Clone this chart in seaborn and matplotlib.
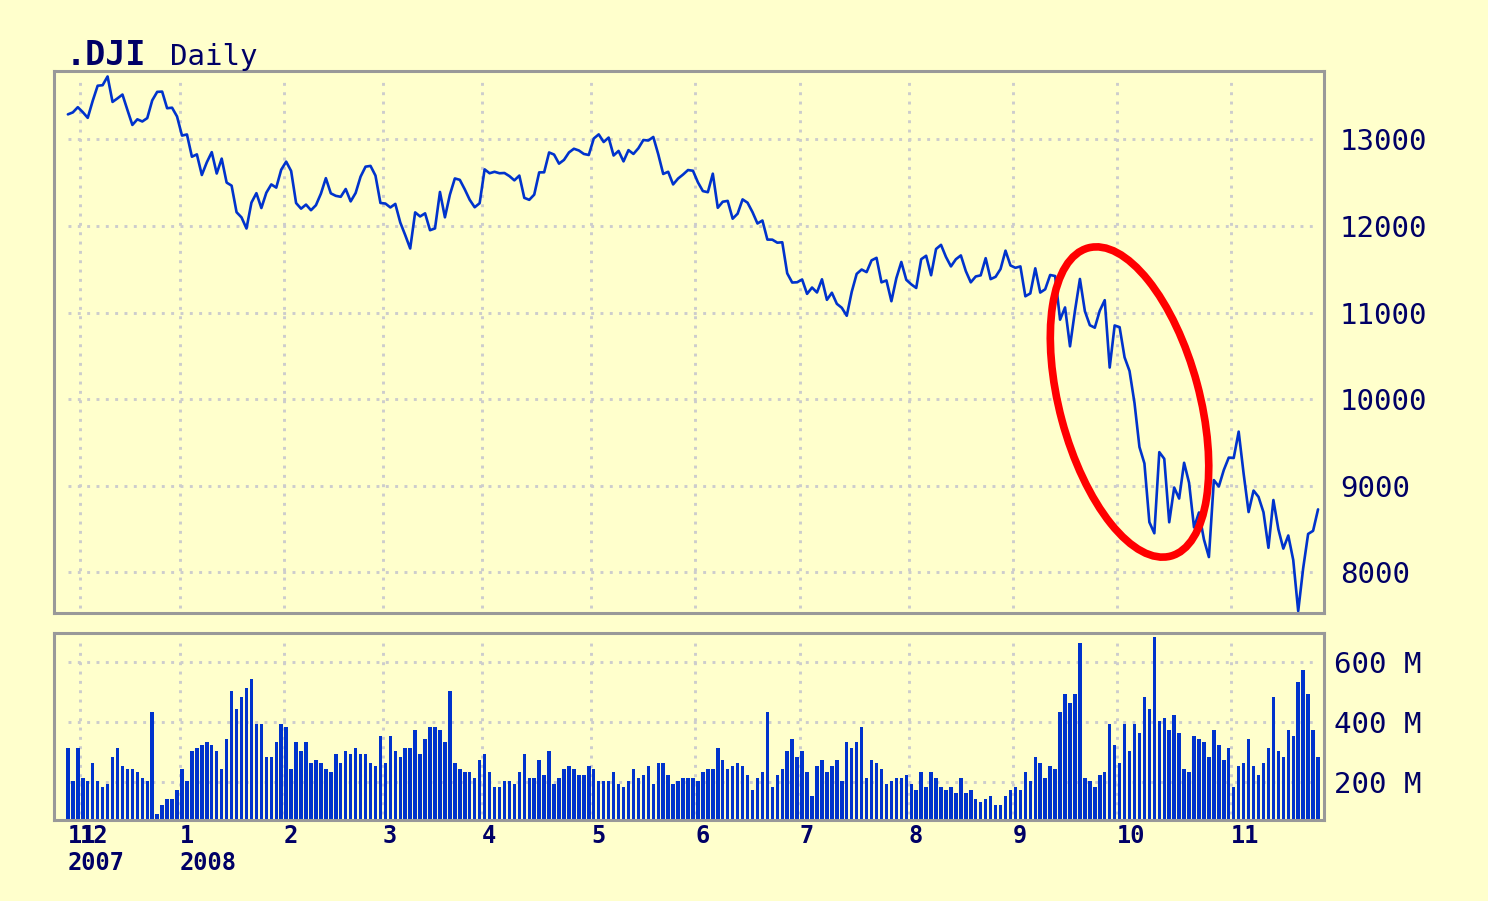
import numpy as np
import pandas as pd
import matplotlib.pyplot as plt
import matplotlib.transforms as mtransforms
from matplotlib.patches import Ellipse
import seaborn as sns

# Trading calendar shown on the chart
start, end = "2007-11-28", "2008-11-26"
holidays = ["2007-12-25", "2008-01-01", "2008-01-21", "2008-02-18", "2008-03-21",
            "2008-05-26", "2008-07-04", "2008-09-01"]

# Daily close
close = [
    13289, 13312, 13372,
    13315, 13249, 13445, 13620, 13626, 13727, 13433, 13474, 13518, 13340,
    13167, 13232, 13207, 13246, 13451, 13549, 13552, 13360, 13366, 13265,
    13044, 13057, 12800, 12827, 12589, 12735, 12853, 12606, 12778, 12501,
    12466, 12159, 12099, 11971, 12270, 12379, 12207, 12384, 12480, 12443, 12650,
    12743, 12635, 12265, 12200, 12247, 12182, 12240, 12373, 12552, 12377,
    12348, 12337, 12427, 12284, 12381, 12570, 12685, 12694, 12582, 12266,
    12259, 12214, 12255, 12040, 11894, 11740, 12157, 12110, 12146, 11951,
    11972, 12393, 12100, 12361, 12549, 12533, 12423, 12302, 12216, 12263,
    12654, 12609, 12626, 12609, 12612, 12576, 12527, 12582, 12325, 12302,
    12362, 12619, 12620, 12849, 12825, 12720, 12763, 12849, 12892, 12872, 12832, 12820,
    13010, 13058, 12970, 13021, 12814, 12867, 12746, 12876, 12832, 12898,
    12993, 12987, 13028, 12829, 12601, 12626, 12480, 12548, 12594, 12646, 12638,
    12504, 12403, 12390, 12604, 12210, 12280, 12290, 12084, 12142, 12307,
    12269, 12160, 12029, 12063, 11843, 11842, 11807, 11812, 11453, 11347, 11350,
    11382, 11216, 11289, 11232, 11384, 11147, 11229, 11101, 11055, 10963,
    11239, 11447, 11497, 11467, 11603, 11632, 11349, 11371, 11131, 11398, 11584, 11378,
    11326, 11284, 11616, 11656, 11431, 11734, 11782, 11642, 11533, 11616,
    11660, 11479, 11349, 11417, 11430, 11628, 11386, 11413, 11503, 11715, 11544,
    11517, 11533, 11188, 11221, 11511, 11231, 11269, 11434, 11422, 10918,
    11059, 10610, 11020, 11388, 11016, 10854, 10825, 11022, 11143, 10365, 10851,
    10831, 10483, 10325, 9956, 9447, 9258, 8579, 8451, 9388, 9311,
    8578, 8979, 8852, 9265, 9034, 8519, 8691, 8379, 8176, 9065, 8991, 9181, 9325,
    9320, 9625, 9139, 8696, 8944, 8871, 8694, 8283, 8835, 8497,
    8274, 8425, 8142, 7552, 8046, 8443, 8479, 8727,
]

# Daily volume in millions
volume = [
    314, 203, 314,
    213, 203, 263, 203, 183, 193, 283, 313, 253, 243, 243, 233, 213, 203, 433, 93, 123, 143, 143, 173,
    243, 203, 303, 313, 323, 333, 323, 303, 243, 343, 503, 443, 483, 513, 543, 393, 393, 283, 283, 333, 393,
    383, 243, 333, 303, 333, 263, 273, 263, 243, 233, 293, 263, 303, 293, 313, 293, 293, 263, 253, 353,
    263, 353, 303, 283, 313, 313, 373, 293, 343, 383, 383, 373, 333, 503, 263, 243, 233, 233, 213, 273,
    293, 233, 183, 183, 203, 203, 193, 233, 293, 213, 213, 273, 223, 303, 193, 213, 243, 253, 243, 223, 223, 253,
    243, 203, 203, 203, 233, 193, 183, 203, 243, 213, 223, 253, 193, 263, 263, 223, 193, 203, 213, 213, 213,
    203, 233, 243, 243, 313, 273, 243, 253, 263, 253, 223, 173, 213, 233, 433, 183, 223, 243, 303, 343, 283,
    303, 233, 153, 253, 273, 233, 253, 273, 203, 333, 313, 333, 383, 213, 273, 263, 243, 193, 203, 213, 213, 223,
    193, 173, 233, 183, 233, 213, 183, 173, 183, 163, 213, 163, 173, 143, 133, 143, 153, 123, 123, 153, 173,
    183, 173, 233, 203, 283, 263, 213, 253, 243, 433, 493, 463, 493, 663, 213, 203, 183, 223, 233, 393, 323,
    263, 393, 303, 393, 363, 483, 443, 683, 403, 413, 373, 423, 363, 243, 233, 353, 343, 333, 283, 373, 323, 273, 313,
    183, 253, 263, 343, 253, 223, 263, 313, 483, 303, 283, 373, 353, 533, 573, 493, 373, 283,
]

price_levels = [8000, 9000, 10000, 11000, 12000, 13000]
volume_levels = [200, 400, 600]

BG = "#FFFFCC"
BLUE = "#0033CC"
NAVY = "#000066"
GRID = "#CCCCCC"
FRAME = "#999999"

days = pd.bdate_range(start, end).drop(pd.to_datetime(holidays))
df = pd.DataFrame({"date": days, "close": close, "volume": volume})
df["i"] = np.arange(len(df))

# month boundaries sit halfway between two trading days
first = df.groupby(df["date"].dt.to_period("M"))["i"].min()
bounds = first.values[1:] - 0.5
label_pos = np.r_[0, bounds]
month_labels = [str(p.month) for p in first.index]
year_pos = [label_pos[k] for k, p in enumerate(first.index) if k == 0 or p.month == 1]
year_labels = [str(p.year) for k, p in enumerate(first.index) if k == 0 or p.month == 1]

sns.set_style("white")
plt.rcParams["font.family"] = ["DejaVu Sans Mono", "DejaVu Sans"]

W, H = 1488, 901
fig = plt.figure(figsize=(W / 100, H / 100), dpi=100, facecolor=BG)
ax1 = fig.add_axes([54 / W, 1 - 613 / H, 1270 / W, 542 / H], facecolor=BG)
ax2 = fig.add_axes([54 / W, 1 - 820 / H, 1270 / W, 187 / H], facecolor=BG)

dots = dict(color=GRID, linewidth=2.1, linestyle=(0, (1, 2.2)), zorder=0)

# price panel
ax1.hlines(price_levels, df["i"].iloc[0], df["i"].iloc[-1], **dots)
for b in bounds:
    ax1.axvline(b, ymin=0.01, ymax=0.99, **dots)
sns.lineplot(data=df, x="i", y="close", ax=ax1, color=BLUE, linewidth=1.9, zorder=2)

# red highlight around the October crash
oval = Ellipse((0, 0), width=3.19, height=1.40, angle=-75, fill=False,
               edgecolor="#FF0000", linewidth=5.5, zorder=4, clip_on=False,
               transform=fig.dpi_scale_trans + mtransforms.ScaledTranslation(214, 9967, ax1.transData))
ax1.add_patch(oval)

ax1.set_xlim(-2.8, 253.2)
ax1.set_ylim(7530, 13790)
ax1.set_xticks([])
ax1.yaxis.tick_right()
ax1.set_yticks(price_levels)
ax1.tick_params(axis="y", length=0, pad=11.5, labelsize=21, labelcolor=NAVY)
ax1.set_xlabel("")
ax1.set_ylabel("")

# volume panel
ax2.hlines(volume_levels, df["i"].iloc[0], df["i"].iloc[-1], **dots)
for b in bounds:
    ax2.axvline(b, ymin=0.03, ymax=0.97, **dots)
sns.barplot(data=df, x="i", y="volume", ax=ax2, native_scale=True, width=0.7,
            color=BLUE, saturation=1, errorbar=None, linewidth=0, zorder=2)
ax2.set_xlim(-2.8, 253.2)
ax2.set_ylim(72, 697)
ax2.set_xticks([])
ax2.yaxis.tick_right()
ax2.set_yticks(volume_levels)
ax2.set_yticklabels([f"{v} M" for v in volume_levels])
ax2.tick_params(axis="y", length=0, pad=7.5, labelsize=21, labelcolor=NAVY)
ax2.set_xlabel("")
ax2.set_ylabel("")

for ax in (ax1, ax2):
    for s in ax.spines.values():
        s.set_visible(True)
        s.set_color(FRAME)
        s.set_linewidth(2.2)

# month / year labels under the volume panel (Nov and Dec overlap as in the source)
tr = mtransforms.blended_transform_factory(ax2.transData, ax2.transAxes)
for p, lab in zip(label_pos, month_labels):
    ax2.text(p, -0.123, lab, transform=tr, ha="left", va="baseline",
             fontsize=17, fontweight="bold", color=NAVY)
for p, lab in zip(year_pos, year_labels):
    ax2.text(p, -0.267, lab, transform=tr, ha="left", va="baseline",
             fontsize=17, fontweight="bold", color=NAVY)

fig.text(66 / W, 1 - 65 / H, ".DJI", fontsize=24, fontweight="bold", color=NAVY, va="baseline")
fig.text(170 / W, 1 - 65 / H, "Daily", fontsize=21, color=NAVY, va="baseline")

fig.savefig("out.png", dpi=100, facecolor=BG)
